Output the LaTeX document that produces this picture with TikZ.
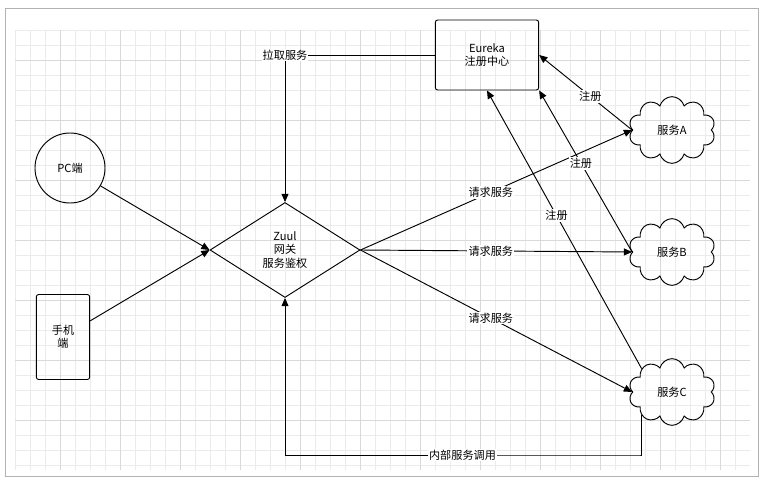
\documentclass[tikz,border=0pt]{standalone}
\usepackage{fontspec}
\setmainfont{Noto Sans CJK SC}
\usepackage{tikz}
\usetikzlibrary{shapes.geometric,shapes.symbols,arrows.meta}

\begin{document}
\begin{tikzpicture}[x=0.03cm,y=-0.03cm,font=\fontsize{9.5}{11.5}\selectfont,
	box/.style={draw,thick,rounded corners=2pt,align=center},
	svc/.style={cloud,draw,thick,cloud puffs=10,aspect=1.3,minimum width=2.6cm,minimum height=2cm},
	link/.style={thick,-{Triangle[length=7pt,width=6pt]}},
	tag/.style={fill=white,inner sep=1pt}]
\useasboundingbox (0,0) rectangle (764,481);
% grid background
\draw[black!8] (15,30) grid[step=0.45cm] (750,470);
\draw[black!15,step=1.8cm] (15,30) grid (750,470);
\draw[black!30] (5,8) rectangle (758,476);

\node[circle,draw,thick,minimum size=2.1cm] (pc) at (70,168) {PC端};
\node[box,minimum width=1.6cm,minimum height=2.55cm] (phone) at (63,337) {手机\\端};
\node[diamond,draw,thick,minimum width=4.5cm,minimum height=2.85cm,align=center,inner sep=0pt] (zuul) at (285,250) {Zuul\\网关\\服务鉴权};
\node[box,minimum width=3.1cm,minimum height=2.1cm] (eureka) at (487,55) {Eureka\\注册中心};
\node[svc] (a) at (672,130) {服务A};
\node[svc] (b) at (672,252) {服务B};
\node[svc] (c) at (672,392) {服务C};

\draw[link] (pc) -- (zuul.west);
\draw[link] (phone) -- (zuul.west);
\draw[link] (eureka.west) -| node[tag,pos=0.5] {拉取服务} (zuul.north);
\draw[link] (zuul.east) -- node[tag,pos=0.48] {请求服务} (a.west);
\draw[link] (zuul.east) -- node[tag,pos=0.48] {请求服务} (b.west);
\draw[link] (zuul.east) -- node[tag,pos=0.48] {请求服务} (c.west);
\draw[link] (a.west) -- node[tag,pos=0.45] {注册} (eureka.east);
\draw[link] (b.west) -- node[tag,pos=0.55] {注册} (eureka.south east);
\draw[link] (c.north west) -- node[tag,pos=0.55] {注册} (eureka.south);
\coordinate (cb) at (640,455);
\draw[link] (c.south west) |- (cb) -| node[tag,pos=0.25] {内部服务调用} (zuul.south);
\end{tikzpicture}
\end{document}
